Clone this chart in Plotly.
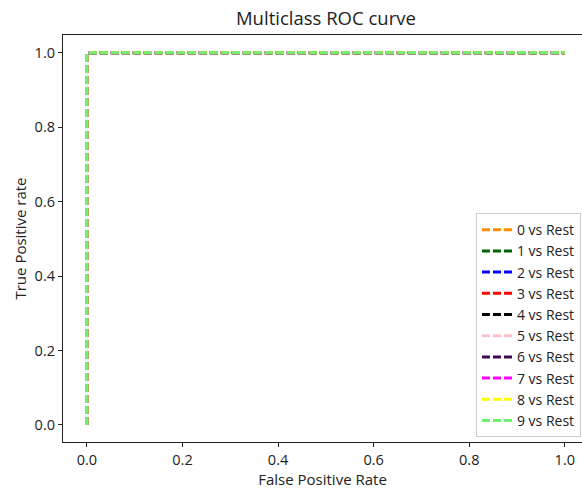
import plotly.graph_objects as go

classes = ["0", "1", "2", "3", "4", "5", "6", "7", "8", "9"]
colors = ["darkorange", "darkgreen", "blue", "red", "black", "pink",
          "#3d0a4f", "magenta", "yellow", "#6ef26e"]
fpr = [0.0, 0.0, 0.0, 1.0]
tpr = [0.0, 0.01, 1.0, 1.0]

x_ticks = [0.0, 0.2, 0.4, 0.6, 0.8, 1.0]
y_ticks = [0.0, 0.2, 0.4, 0.6, 0.8, 1.0]

fig = go.Figure()
for c, col in zip(classes, colors):
    fig.add_trace(go.Scatter(
        x=fpr, y=tpr, mode="lines",
        name=f"{c} vs Rest",
        line=dict(color=col, width=3, dash="8px,3px"),
    ))

font = "Open Sans, Noto Sans, DejaVu Sans, sans-serif"
fig.update_layout(
    width=582, height=492,
    margin=dict(l=63, r=0, t=35, b=50),
    paper_bgcolor="white", plot_bgcolor="white",
    font=dict(family=font, size=14, color="#222"),
    title=dict(text="Multiclass ROC curve", x=0.56, xanchor="center",
               y=0.962, yanchor="middle", font=dict(size=18.5, color="#222")),
    showlegend=True,
    legend=dict(x=0.998, xanchor="right", y=0.012, yanchor="bottom",
                bgcolor="rgba(255,255,255,0.9)", bordercolor="#cccccc",
                borderwidth=1, font=dict(size=14, color="#222"),
                itemwidth=30, tracegroupgap=0),
)
fig.update_xaxes(
    range=[-0.05, 1.036], tickvals=x_ticks,
    ticktext=[f"{v:.1f}" for v in x_ticks],
    showgrid=False, zeroline=False, showline=True, linecolor="#222",
    linewidth=1.2, mirror=True, ticks="outside", ticklen=4, tickcolor="#222",
    tickfont=dict(size=14.5),
    title=dict(text="False Positive Rate", standoff=5, font=dict(size=15)),
)
fig.update_yaxes(
    range=[-0.046, 1.048], tickvals=y_ticks,
    ticktext=[f"{v:.1f}" for v in y_ticks],
    showgrid=False, zeroline=False, showline=True, linecolor="#222",
    linewidth=1.2, mirror=False, ticks="outside", ticklen=4, tickcolor="#222",
    tickfont=dict(size=14.5),
    title=dict(text="True Positive rate", standoff=4, font=dict(size=15)),
)

fig.write_html("out.html", config={"displayModeBar": False})

with open("out.html", "r", encoding="utf-8") as f:
    html = f.read()
html = html.replace("<body>", '<body style="margin:0;overflow:hidden">', 1)
with open("out.html", "w", encoding="utf-8") as f:
    f.write(html)
